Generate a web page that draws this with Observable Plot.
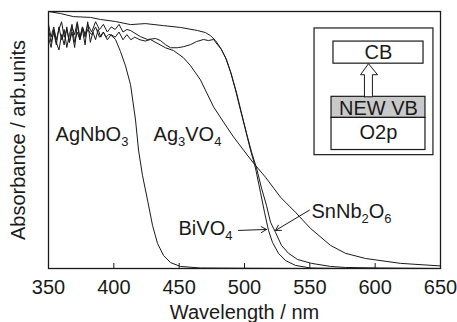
<!DOCTYPE html>
<html>
<head>
<meta charset="utf-8">
<script src="https://cdn.jsdelivr.net/npm/d3@7"></script>
<script src="https://cdn.jsdelivr.net/npm/@observablehq/plot@0.6"></script>
<style>
  html, body { margin: 0; padding: 0; background: #fff; }
  #chart svg { display: block; }
</style>
</head>
<body>
<div id="chart"></div>
<script>
// ---- data (wavelength in nm, absorbance in arb. units) ----
const agnbo3_nm  = [350,352,354,356,358,360,362,364,366,368,370,372,374,376,378,380,382,384,386,388,390,392,394,396,397.4,401.3,405.1,408.9,412.8,416.6,418.9,421.9,425.8,429.6,433.4,438.0,443.4,451.0,466.3,500,550,600,650];
const agnbo3_abs = [0.90,0.86,0.93,0.88,0.85,0.91,0.87,0.94,0.88,0.92,0.86,0.95,0.89,0.93,0.87,0.96,0.88,0.92,0.89,0.93,0.90,0.92,0.90,0.91,0.91,0.891,0.844,0.789,0.715,0.578,0.461,0.363,0.266,0.168,0.098,0.051,0.023,0.008,0.002,0.001,0.0,0.0,0.0];

const ag3vo4_nm  = [350,352,354,356,358,360,362,364,366,368,370,372,374,376,378,380,383,386,389,392,395,398,401,404,407,410,413,416,420,424,428,439.5,445.7,453.3,458.7,466.3,476.3,483.9,491.6,499.2,506.9,516.1,527.6,539.0,550.5,565.8,577.3,592.6,619.4,650];
const ag3vo4_abs = [0.93,0.88,0.92,0.87,0.94,0.89,0.93,0.86,0.91,0.95,0.88,0.92,0.89,0.94,0.90,0.93,0.91,0.94,0.90,0.92,0.89,0.91,0.90,0.92,0.89,0.91,0.89,0.90,0.89,0.885,0.891,0.859,0.848,0.820,0.789,0.734,0.629,0.570,0.512,0.461,0.410,0.355,0.277,0.219,0.156,0.090,0.059,0.039,0.020,0.010];

const bivo4_nm  = [350,359.2,369.1,382.1,389.8,401.3,412.8,424.2,438.0,451.0,464.0,470.1,474.0,477.8,481.6,485.5,489.3,493.1,496.9,500.8,504.6,508.4,512.2,515.3,518.4,521.4,526.0,531.4,539.0,550.5,573.5,650];
const bivo4_abs = [1.0,0.992,0.980,0.977,0.969,0.961,0.949,0.953,0.945,0.938,0.926,0.918,0.906,0.887,0.859,0.820,0.766,0.695,0.617,0.539,0.461,0.391,0.297,0.219,0.148,0.102,0.059,0.031,0.012,0.002,0.0,0.0];

const snnb2o6_nm  = [350,352,354,356,358,360,362,364,366,368,370,372,374,376,378,380,383,386,389,392,395,398,401,404,407,410,412.8,420.4,425.8,431.9,435.7,439.5,443.4,448.7,453.3,458.7,463.3,468.6,472.4,476.3,479.3,482.4,486.2,490.0,493.9,497.7,501.5,505.4,509.2,513.0,516.8,519.9,523.7,528.3,533.7,540.6,551.3,565.8,577.3,604.1,650];
const snnb2o6_abs = [0.95,0.90,0.94,0.89,0.93,0.96,0.90,0.93,0.88,0.94,0.91,0.96,0.90,0.94,0.91,0.95,0.92,0.96,0.93,0.95,0.92,0.94,0.93,0.95,0.92,0.93,0.926,0.902,0.891,0.895,0.887,0.871,0.859,0.859,0.863,0.871,0.883,0.891,0.887,0.891,0.871,0.852,0.813,0.754,0.684,0.605,0.527,0.453,0.391,0.313,0.246,0.180,0.141,0.090,0.059,0.035,0.020,0.008,0.004,0.002,0.0];

const xTicks = [350,400,450,500,550,600,650];

// series labels: text, anchor wavelength, anchor absorbance
const labelText = ["AgNbO3","Ag3VO4","BiVO4","SnNb2O6"];
const labelNm   = [355.4, 430.4, 449.5, 551.3];
const labelAbs  = [0.520, 0.520, 0.156, 0.223];

// label arrows
const arrowX1 = [495.4, 549.7];
const arrowY1 = [0.148, 0.227];
const arrowX2 = [516.8, 523.7];
const arrowY2 = [0.152, 0.148];

// inset band diagram (in chart units)
const insetName = ["frame","CB","NEW VB","O2p"];
const insetX1 = [553.6, 568.1, 566.6, 566.6];
const insetX2 = [644.6, 637.0, 638.5, 638.5];
const insetY1 = [0.441, 0.797, 0.586, 0.461];
const insetY2 = [0.934, 0.883, 0.668, 0.586];
const insetFill = ["white","white","#c9c9c9","white"];
const insetText   = ["CB","NEW VB","O2p"];
const insetTextX  = [602.5, 602.5, 602.5];
const insetTextY  = [0.840, 0.624, 0.528];
const blockArrowX = [591.8, 591.8, 588.8, 594.9, 601.8, 597.9, 597.9, 591.8];
const blockArrowY = [0.668, 0.754, 0.754, 0.797, 0.754, 0.754, 0.668, 0.668];

// ---- build tables ----
const series = [
  [agnbo3_nm, agnbo3_abs, "AgNbO3"],
  [ag3vo4_nm, ag3vo4_abs, "Ag3VO4"],
  [bivo4_nm, bivo4_abs, "BiVO4"],
  [snnb2o6_nm, snnb2o6_abs, "SnNb2O6"]
];
const curves = series.flatMap(([xs, ys, name]) => xs.map((x, i) => ({name, x, y: ys[i]})));
const labels = labelText.map((t, i) => ({t, x: labelNm[i], y: labelAbs[i]}));
const arrows = arrowX1.map((x1, i) => ({x1, y1: arrowY1[i], x2: arrowX2[i], y2: arrowY2[i]}));
const boxes = insetName.map((n, i) => ({n, x1: insetX1[i], x2: insetX2[i], y1: insetY1[i], y2: insetY2[i], fill: insetFill[i]}));
const itexts = insetText.map((t, i) => ({t, x: insetTextX[i], y: insetTextY[i]}));
const block = blockArrowX.map((x, i) => ({x, y: blockArrowY[i]}));

const ink = "#1a1a1a";
const font = "'Liberation Sans', Arial, Helvetica, sans-serif";

const chart = Plot.plot({
  width: 457,
  height: 322,
  marginLeft: 48,
  marginRight: 17,
  marginTop: 11,
  marginBottom: 54,
  style: {fontFamily: font, fontSize: "20px", color: ink, background: "white"},
  x: {domain: [350, 650]},
  y: {domain: [0, 1]},
  marks: [
    Plot.line(curves, {x: "x", y: "y", z: "name", stroke: ink, strokeWidth: 1, curve: "linear"}),
    Plot.frame({stroke: ink, strokeWidth: 1.3}),
    Plot.axisX({ticks: xTicks, tickSize: -5, tickPadding: 16, fontSize: 20, stroke: ink,
      label: "Wavelength / nm", labelAnchor: "center", labelArrow: "none", labelOffset: 50, tickFormat: d3.format("d")}),
    Plot.axisY({ticks: [], label: "Absorbance / arb.units", labelAnchor: "center", labelArrow: "none", labelOffset: 38, fontSize: 20}),
    Plot.text(labels, {x: "x", y: "y", text: "t", textAnchor: "start", fontSize: 20, fill: ink}),
    Plot.arrow(arrows, {x1: "x1", y1: "y1", x2: "x2", y2: "y2", stroke: ink, strokeWidth: 1, headLength: 9, bend: false}),
    Plot.rect(boxes, {x1: "x1", x2: "x2", y1: "y1", y2: "y2", fill: "fill", stroke: ink, strokeWidth: 1.2}),
    Plot.line(block, {x: "x", y: "y", fill: "white", stroke: ink, strokeWidth: 1}),
    Plot.text(itexts, {x: "x", y: "y", text: "t", fontSize: 20, fill: ink})
  ]
});

// chemical formula subscripts as real text (tspans)
chart.querySelectorAll("text").forEach(el => {
  const s = el.textContent;
  if (labelText.includes(s) && el.children.length === 0) {
    el.textContent = "";
    const parts = s.match(/\d+|\D+/g);
    let down = false;
    const ns = "http://www.w3.org/2000/svg";
    parts.forEach(p => {
      const ts = document.createElementNS(ns, "tspan");
      if (/\d/.test(p)) {
        ts.setAttribute("font-size", "13");
        ts.setAttribute("dy", "5");
        down = true;
      } else if (down) {
        ts.setAttribute("dy", "-5");
        down = false;
      }
      ts.textContent = p;
      el.appendChild(ts);
    });
  }
});

document.getElementById("chart").appendChild(chart);
</script>
</body>
</html>
